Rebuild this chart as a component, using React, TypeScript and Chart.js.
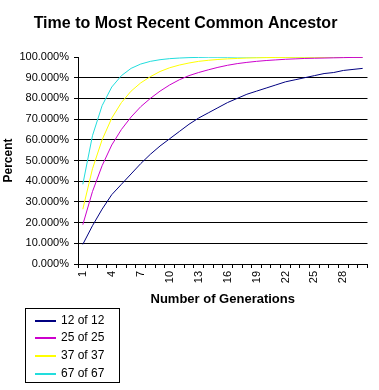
import React, { useEffect, useRef } from "react";
import { Chart, registerables } from "chart.js";

Chart.register(...registerables);

const generations = ["1","2","3","4","5","6","7","8","9","10","11","12","13","14","15","16","17","18","19","20","21","22","23","24","25","26","27","28","29","30"];

const seriesNames = ["12 of 12", "25 of 25", "37 of 37", "67 of 67"];

const of12 = [9.5, 18.5, 26.5, 33.5, 38.5, 43.5, 48.5, 53, 57, 60.5, 64, 67.5, 70.5, 73, 75.5, 78, 80, 82, 83.5, 85, 86.5, 88, 89, 90, 91, 92, 92.5, 93.5, 94, 94.5];
const of25 = [19, 35, 47.5, 57.5, 65, 71, 76, 80, 83.5, 86.5, 89, 91, 92.5, 93.8, 95, 96, 96.8, 97.4, 97.9, 98.3, 98.6, 98.9, 99.1, 99.3, 99.4, 99.5, 99.6, 99.7, 99.8, 99.8];
const of37 = [26.5, 46, 60, 70.5, 78, 83.5, 87.5, 90.5, 93, 94.8, 96.1, 97.1, 97.9, 98.4, 98.8, 99.1, 99.3, 99.5, 99.6, 99.7, 99.8, 99.8, 99.9, 99.9, 99.9, 99.9, 100, 100, 100, 100];
const of67 = [38.5, 62, 76.5, 85.5, 91, 94.5, 96.6, 97.9, 98.7, 99.2, 99.5, 99.7, 99.8, 99.9, 99.9, 99.9, 100, 100, 100, 100, 100, 100, 100, 100, 100, 100, 100, 100, 100, 100];

const seriesColors = ["#000080", "#CC00CC", "#FFFF00", "#22DDDD"];

const FONT = '"Liberation Sans", Arial, sans-serif';

const boxLegend = {
  id: "boxLegend",
  afterDraw(chart: any) {
    const ctx = chart.ctx;
    ctx.save();
    ctx.setLineDash([]);
    ctx.strokeStyle = "#000";
    ctx.lineWidth = 1;
    ctx.strokeRect(25.5, 308.5, 94, 74);
    ctx.font = `12px ${FONT}`;
    ctx.textBaseline = "middle";
    ctx.textAlign = "left";
    chart.data.datasets.forEach((ds: any, i: number) => {
      const y = Math.round(319.5 + i * 17.8);
      ctx.fillStyle = seriesColors[i];
      ctx.fillRect(35, y, 21, 2);
      ctx.fillStyle = "#000";
      ctx.fillText(ds.label, 61, y + 1);
    });
    ctx.restore();
  },
};

export default function App() {
  const ref = useRef<HTMLCanvasElement>(null);

  useEffect(() => {
    if (!ref.current) return;
    const values = [of12, of25, of37, of67];
    const chart = new Chart(ref.current, {
      type: "line",
      data: {
        labels: generations,
        datasets: seriesNames.map((name, i) => ({
          label: name,
          data: values[i],
          borderColor: seriesColors[i],
          backgroundColor: seriesColors[i],
          borderWidth: 1,
          pointRadius: 0,
          tension: 0,
          fill: false,
        })),
      },
      options: {
        animation: false,
        responsive: false,
        devicePixelRatio: 1,
        layout: { padding: { left: 0, right: 8, top: 0, bottom: 80 } },
        plugins: {
          legend: { display: false },
          tooltip: { enabled: false },
          title: {
            display: true,
            text: "Time to Most Recent Common Ancestor",
            color: "#000",
            font: { family: FONT, size: 16, weight: "bold", lineHeight: 1.2 },
            padding: { top: 14.4, bottom: 23.4 },
          },
        },
        scales: {
          x: {
            type: "category",
            offset: true,
            afterFit: (s: any) => { s.height = 46; },
            grid: {
              offset: true,
              drawOnChartArea: false,
              drawTicks: true,
              tickLength: 4,
              tickColor: "#000",
            },
            border: { display: true, color: "#000", width: 1 },
            ticks: {
              autoSkip: false,
              maxRotation: 90,
              minRotation: 90,
              padding: 3,
              color: "#000",
              font: { family: FONT, size: 11 },
              callback: (_v: any, idx: number) => (idx % 3 === 0 ? generations[idx] : ""),
            },
            title: {
              display: true,
              text: "Number of Generations",
              color: "#000",
              font: { family: FONT, size: 13, weight: "bold", lineHeight: 1 },
              padding: { top: 0, bottom: 4 },
            },
          },
          y: {
            min: 0,
            max: 100,
            afterFit: (s: any) => { s.width = 78; },
            grid: {
              color: (c: any) => (c.tick && c.tick.value === 100 ? "rgba(0,0,0,0)" : "#000"),
              tickColor: "#000",
              tickLength: 4,
              lineWidth: 1,
            },
            border: { display: true, color: "#000", width: 1 },
            ticks: {
              stepSize: 10,
              padding: 5,
              color: "#000",
              font: { family: FONT, size: 11 },
              callback: (v: any) => Number(v).toFixed(3) + "%",
            },
            title: {
              display: true,
              text: "Percent",
              color: "#000",
              font: { family: FONT, size: 12, weight: "bold", lineHeight: 1 },
              padding: { top: 3, bottom: 0 },
            },
          },
        },
      },
      plugins: [boxLegend],
    });
    return () => chart.destroy();
  }, []);

  return (
    <div style={{ position: "fixed", left: 0, top: 0, width: 379, height: 390, background: "#fff" }}>
      <canvas ref={ref} width={379} height={390} style={{ display: "block" }} />
    </div>
  );
}
